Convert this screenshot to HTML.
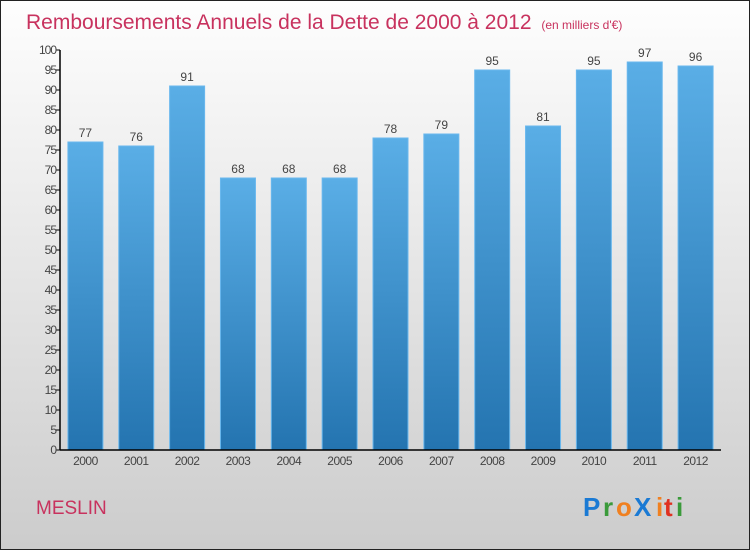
<!DOCTYPE html>
<html><head><meta charset="utf-8"><style>
body{margin:0;width:750px;height:550px;overflow:hidden;font-family:"Liberation Sans",sans-serif}
</style></head><body>
<svg width="750" height="550" xmlns="http://www.w3.org/2000/svg">
<defs>
<linearGradient id="bg" x1="0" y1="0" x2="0" y2="1"><stop offset="0" stop-color="#fefefe"/><stop offset="1" stop-color="#cccccc"/></linearGradient>
<linearGradient id="bar" x1="0" y1="0" x2="0" y2="1"><stop offset="0" stop-color="#5aaee6"/><stop offset="1" stop-color="#2474b0"/></linearGradient>
</defs>
<rect x="0.5" y="0.5" width="749" height="549" fill="url(#bg)" stroke="#222"/>
<text x="26" y="29" font-size="21" fill="#c8325e">Remboursements Annuels de la Dette de 2000 à 2012 <tspan font-size="12" dx="4">(en milliers d'€)</tspan></text>
<g id="plot"></g>
<text x="36" y="514" font-size="19" fill="#c8325e">MESLIN</text>
<g font-size="26" font-weight="bold">
<text x="583" y="516" fill="#1a7ad4">P</text><text x="603" y="516" fill="#3a9a3a">r</text><text x="616" y="516" fill="#f08020">o</text><text x="634" y="516" fill="#1a7ad4">X</text><text x="656" y="516" fill="#f08020">i</text><text x="664" y="516" fill="#e03020">t</text><text x="676" y="516" fill="#3a9a3a">i</text>
</g>
</svg>
<script>
const categories=["2000","2001","2002","2003","2004","2005","2006","2007","2008","2009","2010","2011","2012"];
const values=[77,76,91,68,68,68,78,79,95,81,95,97,96];
const yTicks=[0,5,10,15,20,25,30,35,40,45,50,55,60,65,70,75,80,85,90,95,100];
const NS="http://www.w3.org/2000/svg";
const g=document.getElementById('plot');
const x0=60,x1=721,yb=450,yt=50,ymax=100;
const bw=(x1-x0)/categories.length;
const y=v=>yb-(v/ymax)*(yb-yt);
function mk(t,a,txt){const e=document.createElementNS(NS,t);for(const k in a)e.setAttribute(k,a[k]);if(txt!==undefined)e.textContent=txt;g.appendChild(e);return e;}
yTicks.forEach(v=>{
 const l=mk('line',{x1:x0-4,x2:x0,y1:y(v),y2:y(v),stroke:'#000'});
 
 
 const t=mk('text',{x:x0-4,y:y(v)+4,'text-anchor':'end','font-size':12,fill:'#444','letter-spacing':'-1'},v);
 
 
});
categories.forEach((c,i)=>{
 const cx=x0+bw*(i+0.5);
 const r=mk('rect',{x:cx-17.5,y:y(values[i]),width:35,height:yb-y(values[i]),fill:'url(#bar)',stroke:'#6ab8ee','stroke-width':1});
 
 
 const vl=mk('text',{x:cx,y:y(values[i])-5,'text-anchor':'middle','font-size':12,fill:'#444'},values[i]);
 
 
 const xl=mk('text',{x:cx,y:465,'text-anchor':'middle','font-size':12,fill:'#444','letter-spacing':'-0.5'},c);
 
 
});
const ya=mk('line',{x1:x0,x2:x0,y1:yt,y2:yb,stroke:'#000','stroke-width':1.5});


const xa=mk('line',{x1:x0,x2:x1,y1:yb,y2:yb,stroke:'#000','stroke-width':1.5});


</script>
</body></html>
